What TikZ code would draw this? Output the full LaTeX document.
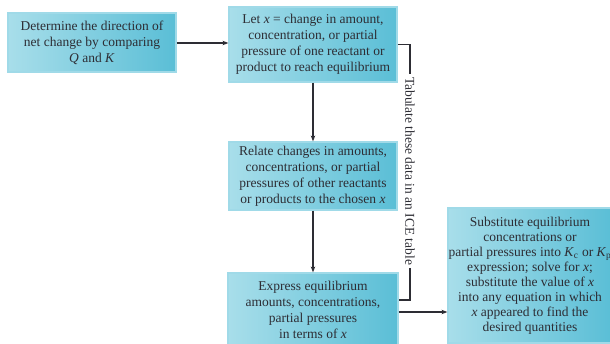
\documentclass[tikz,border=0pt]{standalone}
\usepackage{fontspec}
\setmainfont{Liberation Serif}
\usetikzlibrary{arrows.meta}
\definecolor{boxlight}{RGB}{168,222,234}
\definecolor{boxdark}{RGB}{90,190,214}
\definecolor{boxedge}{RGB}{160,218,232}
\definecolor{inkgray}{RGB}{45,45,52}

\begin{document}
\begin{tikzpicture}[x=1pt, y=-1pt,
    stepbox/.style={rectangle, draw=boxedge, line width=1.2pt, left color=boxlight, right color=boxdark,
        text=inkgray, align=center, inner sep=0pt, font=\fontsize{13.5}{16}\selectfont},
    flow/.style={draw=inkgray, line width=1.1pt, -{Stealth[length=6pt,width=4.5pt]}},
    bracket/.style={draw=inkgray, line width=1.1pt}]
        \useasboundingbox (0,0) rectangle (610,343);
        \clip (0,0) rectangle (610,343);

        \node[stepbox, minimum width=168pt, minimum height=59pt] (a) at (92,42.5) {Determine the direction of\\net change by comparing\\\textit{Q} and \textit{K}};
        \node[stepbox, minimum width=168pt, minimum height=75pt] (b) at (313,44.5) {Let \textit{x} = change in amount,\\concentration, or partial\\pressure of one reactant or\\product to reach equilibrium};
        \node[stepbox, minimum width=168pt, minimum height=68pt] (c) at (313,176) {Relate changes in amounts,\\concentrations, or partial\\pressures of other reactants\\or products to the chosen \textit{x}};
        \node[stepbox, minimum width=170pt, minimum height=74pt] (d) at (313,310) {Express equilibrium\\amounts, concentrations,\\partial pressures\\in terms of \textit{x}};
        \node[stepbox, minimum width=164pt, minimum height=135pt, font=\fontsize{13.5}{15}\selectfont] (e) at (530,275.5) {Substitute equilibrium\\concentrations or\\partial pressures into \textit{K}\textsubscript{c} or \textit{K}\textsubscript{p}\\expression; solve for \textit{x};\\substitute the value of \textit{x}\\into any equation in which\\\textit{x} appeared to find the\\desired quantities};
        \node[text=inkgray, rotate=-90, inner sep=3pt, font=\fontsize{13.5}{16}\selectfont] (t) at (410,171) {Tabulate these data in an ICE table};

        \draw[flow] (a.east |- 0,43) -- (b.west |- 0,43);
        \draw[flow] (b) -- (c);
        \draw[flow] (c) -- (d);
        \draw[flow] (d.east |- 0,312) -- (e.west |- 0,312);
        \draw[bracket] (b.east) -| (t.west);
        \draw[bracket] (t.east) |- ([yshift=10pt]d.east);
    \end{tikzpicture}
\end{document}
